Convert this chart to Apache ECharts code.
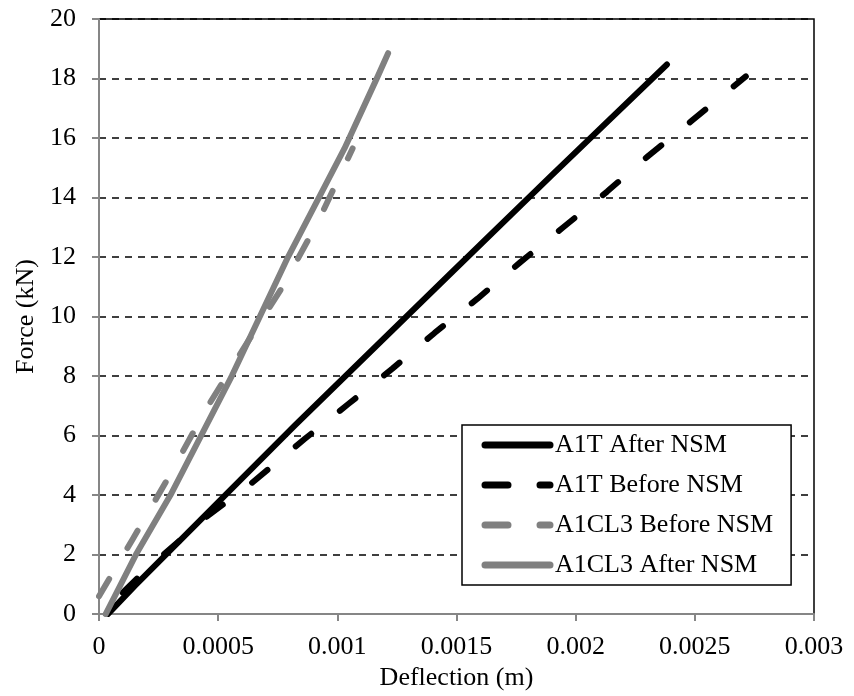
<!DOCTYPE html>
<html>
<head>
<meta charset="utf-8">
<script src="https://cdn.jsdelivr.net/npm/echarts@6/dist/echarts.min.js"></script>
<style>
  html, body { margin: 0; padding: 0; background: #fff; }
  #chart { width: 854px; height: 696px; }
</style>
</head>
<body>
<div id="chart"></div>
<script>
// Load–deflection curves (deflection in m, force in kN)
const a1tAfterX  = [0.000037, 0.00015, 0.000533, 0.000823, 0.001473, 0.001900, 0.002383];
const a1tAfterY  = [0, 0.95, 4.02, 6.35, 11.43, 14.75, 18.47];

const a1tBeforeX = [0, 0.00002, 0.00019, 0.00045, 0.00064, 0.000865, 0.001046, 0.001231, 0.001408, 0.001588, 0.001767, 0.001948, 0.002132, 0.002305, 0.00249, 0.002714];
const a1tBeforeY = [0.2, 0.1, 1.43, 3.26, 4.4, 5.9, 7.06, 8.25, 9.45, 10.6, 11.82, 13.0, 14.2, 15.4, 16.6, 18.07];

const a1cl3BeforeX = [0, 0.00014, 0.000285, 0.00045, 0.00062, 0.00077, 0.00092, 0.001064];
const a1cl3BeforeY = [0.6, 2.5, 4.5, 6.9, 9.1, 11.0, 13.2, 15.65];

const a1cl3AfterX = [0.000028, 0.000155, 0.0003, 0.000557, 0.000675, 0.000793, 0.00103, 0.00117, 0.001213];
const a1cl3AfterY = [0, 2.0, 4.0, 8.0, 10.0, 12.0, 15.65, 18.08, 18.85];

const seriesNames = ['A1T After NSM', 'A1T Before NSM', 'A1CL3 Before NSM', 'A1CL3 After NSM'];

// x-axis tick values and y-axis range
const xTicks = [0, 0.0005, 0.001, 0.0015, 0.002, 0.0025, 0.003];
const yMax = 20, yStep = 2;

const pairs = (xs, ys) => xs.map((x, i) => [x, ys[i]]);

const FONT = '"Liberation Serif", "Times New Roman", serif';
const BLACK = '#000000';
const GREY = '#808080';
const AXIS_GREY = '#868686';

function lineSeries(name, data, color, dash, dashOffset) {
  return {
    name: name,
    type: 'line',
    data: data,
    symbol: 'none',
    smooth: false,
    animation: false,
    lineStyle: {
      color: color,
      width: 6,
      type: dash || 'solid',
      dashOffset: dashOffset || 0,
      cap: 'round',
      join: 'round'
    },
    itemStyle: { color: color }
  };
}

// legend swatch dash pattern for the "Before" curves
const legendDash = { type: [23, 32], dashOffset: 0 };

const chart = echarts.init(document.getElementById('chart'), null, { renderer: 'canvas' });

chart.setOption({
  backgroundColor: '#ffffff',
  animation: false,
  textStyle: { fontFamily: FONT, color: '#000' },
  grid: {
    left: 99, right: 40, top: 19, bottom: 75,
    show: true,
    borderColor: BLACK,
    borderWidth: 1.5,
    backgroundColor: 'transparent'
  },
  xAxis: {
    type: 'value',
    min: xTicks[0],
    max: xTicks[xTicks.length - 1],
    interval: xTicks[1] - xTicks[0],
    name: 'Deflection (m)',
    nameLocation: 'middle',
    nameGap: 49,
    nameTextStyle: { fontFamily: FONT, fontSize: 26, color: '#000' },
    axisLine: { lineStyle: { color: AXIS_GREY, width: 2 } },
    axisTick: { show: true, length: 7, lineStyle: { color: AXIS_GREY, width: 2 } },
    axisLabel: {
      fontFamily: FONT, fontSize: 26, color: '#000', margin: 20,
      formatter: v => String(parseFloat(v.toPrecision(6)))
    },
    splitLine: { show: false }
  },
  yAxis: {
    type: 'value',
    min: 0,
    max: yMax,
    interval: yStep,
    name: 'Force (kN)',
    nameLocation: 'middle',
    nameGap: 57,
    nameRotate: 90,
    nameTextStyle: { fontFamily: FONT, fontSize: 26, color: '#000' },
    axisLine: { show: true, lineStyle: { color: AXIS_GREY, width: 2 } },
    axisTick: { show: true, length: 7, lineStyle: { color: AXIS_GREY, width: 2 } },
    axisLabel: { fontFamily: FONT, fontSize: 26, color: '#000', margin: 23 },
    splitLine: { show: true, lineStyle: { color: BLACK, width: 1.5, type: [7, 6] } }
  },
  legend: {
    orient: 'vertical',
    left: 462,
    top: 425,
    padding: [7, 18, 7, 19.5],
    itemWidth: 65,
    itemHeight: 26,
    itemGap: 14,
    borderColor: BLACK,
    borderWidth: 1.5,
    backgroundColor: '#ffffff',
    itemStyle: { opacity: 0 },
    lineStyle: { width: 7 },
    textStyle: { fontFamily: FONT, fontSize: 26, color: '#000', lineHeight: 26 },
    data: [
      { name: seriesNames[0] },
      { name: seriesNames[1], lineStyle: legendDash },
      { name: seriesNames[2], lineStyle: legendDash },
      { name: seriesNames[3] }
    ]
  },
  series: [
    lineSeries(seriesNames[0], pairs(a1tAfterX, a1tAfterY), BLACK),
    lineSeries(seriesNames[1], pairs(a1tBeforeX, a1tBeforeY), BLACK, [20, 36.7], 24.7),
    lineSeries(seriesNames[2], pairs(a1cl3BeforeX, a1cl3BeforeY), GREY, [20, 36], 0),
    lineSeries(seriesNames[3], pairs(a1cl3AfterX, a1cl3AfterY), GREY)
  ]
});
</script>
</body>
</html>
